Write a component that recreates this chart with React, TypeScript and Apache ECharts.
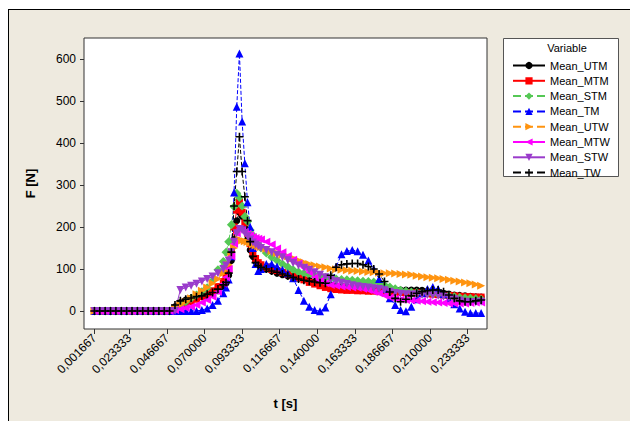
import React, { useEffect, useRef } from "react";
import * as echarts from "echarts";

// sample numbers (sampling rate 600 Hz): t = n / 600
const sampleIdx = [
  1, 3, 5, 7, 9, 11, 13, 15, 17, 19, 21, 23, 25, 27, 29,
  31, 33, 35, 37, 39, 41, 43, 45, 47, 49,
  50, 51, 52, 53, 54, 55, 56, 57, 58, 59, 60, 61, 62,
  63, 65, 67, 69, 71, 73, 75, 77, 79, 81, 83, 85, 87, 89, 91, 93, 95, 97, 99, 101,
  103, 105, 107, 109, 111, 113, 115, 117, 119, 121, 123, 125, 127, 129, 131, 133,
  135, 137, 139, 141, 143, 145,
];
const sampleRate = 600;
const xTickIdx = [1, 14, 28, 42, 56, 70, 84, 98, 112, 126, 140];
const yTicks = [0, 100, 200, 300, 400, 500, 600];

const UTM = [
  0, 0, 0, 0, 0, 0, 0, 0, 0, 0, 0, 0, 0, 0, 0,
  10, 20, 26, 30, 32, 34, 36, 40, 48, 58,
  66, 85, 120, 170, 215, 235, 225, 200, 170, 145, 130, 118, 110,
  106, 100, 95, 90, 86, 83, 80, 78, 75, 73, 70, 67, 64, 62, 60, 58, 57, 55, 54, 53,
  52, 51, 50, 50, 50, 50, 50, 50, 50, 50, 49, 47, 45, 44, 42, 40, 38, 37, 36, 35, 34, 33,
];
const MTM = [
  0, 0, 0, 0, 0, 0, 0, 0, 0, 0, 0, 0, 0, 0, 0,
  4, 10, 16, 22, 28, 34, 40, 48, 58, 70,
  80, 100, 140, 200, 240, 260, 235, 210, 185, 160, 140, 125, 115,
  110, 104, 99, 96, 92, 88, 83, 79, 74, 68, 64, 60, 56, 53, 51, 50, 49, 49, 48, 48,
  47, 47, 46, 46, 45, 45, 44, 44, 43, 43, 42, 41, 40, 39, 38, 37, 36, 35, 34, 34, 33, 33,
];
const STM = [
  0, 0, 0, 0, 0, 0, 0, 0, 0, 0, 0, 0, 0, 0, 0,
  6, 15, 22, 30, 38, 46, 55, 72, 98, 118,
  140, 165, 205, 248, 280, 270, 250, 225, 213, 193, 180, 168, 158,
  150, 138, 128, 120, 112, 105, 98, 93, 90, 87, 84, 82, 80, 78, 76, 75, 74, 73, 72, 71,
  70, 69, 68, 62, 57, 53, 49, 47, 45, 44, 43, 42, 41, 40, 38, 36, 34, 32, 31, 30, 29, 28,
];
const TM = [
  0, 0, 0, 0, 0, 0, 0, 0, 0, 0, 0, 0, 0, 0, 0,
  0, 0, 0, 0, 0, 2, 6, 14, 24, 42,
  56, 75, 130, 282, 486, 613, 451, 352, 259, 200, 150, 112, 95,
  100, 112, 112, 106, 98, 90, 78, 50, 24, 10, 2, -1, 8, 40, 105, 135, 143, 145, 142, 134,
  120, 100, 76, 52, 30, 14, 2, -1, 10, 28, 42, 52, 57, 52, 40, 28, 16, 6, -2, -5, -5, -5,
];
const UTW = [
  0, 0, 0, 0, 0, 0, 0, 0, 0, 0, 0, 0, 0, 0, 0,
  6, 14, 22, 30, 40, 48, 56, 66, 76, 90,
  98, 110, 130, 150, 165, 170, 168, 166, 164, 162, 158, 156, 154,
  152, 148, 143, 138, 134, 130, 126, 121, 116, 112, 109, 106, 104, 101, 99, 98, 97, 96, 95, 94,
  93, 92, 91, 90, 90, 89, 88, 87, 86, 84, 82, 80, 79, 78, 76, 74, 72, 70, 68, 66, 63, 60,
];
const MTW = [
  0, 0, 0, 0, 0, 0, 0, 0, 0, 0, 0, 0, 0, 0, 0,
  2, 4, 7, 10, 14, 20, 26, 34, 46, 65,
  80, 100, 130, 160, 185, 195, 192, 188, 184, 180, 176, 174, 172,
  170, 165, 158, 149, 140, 131, 122, 113, 103, 92, 80, 72, 66, 62, 60, 58, 57, 56, 55, 53,
  50, 46, 42, 37, 32, 29, 27, 26, 25, 24, 23, 22, 21, 20, 19, 18, 18, 18, 18, 19, 20, 20,
];
const STW = [
  0, 0, 0, 0, 0, 0, 0, 0, 0, 0, 0, 0, 0, 0, 0,
  0, 50, 56, 60, 65, 70, 76, 82, 90, 100,
  108, 120, 140, 165, 185, 195, 192, 185, 178, 170, 163, 158, 154,
  150, 145, 140, 134, 128, 121, 114, 108, 103, 98, 92, 86, 80, 75, 71, 67, 64, 61, 59, 57,
  56, 54, 52, 49, 46, 43, 41, 40, 39, 39, 38, 38, 37, 36, 34, 31, 28, 25, 22, 21, 21, 22,
];
const TW = [
  0, 0, 0, 0, 0, 0, 0, 0, 0, 0, 0, 0, 0, 0, 0,
  14, 24, 28, 31, 34, 36, 40, 44, 52, 62,
  68, 90, 140, 250, 332, 415, 332, 272, 215, 165, 130, 115, 108,
  104, 100, 95, 92, 88, 84, 80, 76, 73, 71, 69, 67, 66, 85, 104, 110, 112, 113, 113, 110,
  106, 100, 88, 70, 45, 30, 22, 28, 36, 42, 46, 48, 50, 50, 46, 38, 30, 24, 22, 22, 24, 26,
];

const seriesNames = ["Mean_UTM", "Mean_MTM", "Mean_STM", "Mean_TM", "Mean_UTW", "Mean_MTW", "Mean_STW", "Mean_TW"];
const seriesValues = [UTM, MTM, STM, TM, UTW, MTW, STW, TW];

const FONT = "Arial, 'Liberation Sans', sans-serif";
const PLUS = "path://M4,0H6V4H10V6H6V10H4V6H0V4H4Z";

const styles = [
  { color: "#000000", type: "solid", symbol: "circle", rotate: 0, size: 7 },
  { color: "#FF0000", type: "solid", symbol: "rect", rotate: 0, size: 7 },
  { color: "#55C855", type: "dashed", symbol: "diamond", rotate: 0, size: 9 },
  { color: "#0000FF", type: "dashed", symbol: "triangle", rotate: 0, size: 8 },
  { color: "#FF9410", type: "dashed", symbol: "triangle", rotate: -90, size: 8 },
  { color: "#FF00FF", type: "solid", symbol: "triangle", rotate: 90, size: 8 },
  { color: "#9A3BCB", type: "solid", symbol: "triangle", rotate: 180, size: 8 },
  { color: "#000000", type: "dashed", symbol: PLUS, rotate: 0, size: 8 },
];

export default function App() {
  const ref = useRef<HTMLDivElement>(null);
  useEffect(() => {
    document.body.style.margin = "0";
    const chart = echarts.init(ref.current!, null, { renderer: "svg" });
    const times = sampleIdx.map((n) => n / sampleRate);
    const series = seriesNames.map((name, i) => ({
      name,
      type: "line",
      data: times.map((t, k) => [t, seriesValues[i][k]]),
      symbol: styles[i].symbol,
      symbolSize: styles[i].size,
      symbolRotate: styles[i].rotate,
      showSymbol: true,
      showAllSymbol: true,
      lineStyle: { color: styles[i].color, width: 1, type: styles[i].type },
      itemStyle: { color: styles[i].color },
      emphasis: { disabled: true },
    }));
    chart.setOption({
      animation: false,
      backgroundColor: "#EEEADF",
      textStyle: { fontFamily: FONT },
      grid: {
        left: 84,
        right: 143,
        top: 38,
        bottom: 92,
        show: true,
        backgroundColor: "#FFFFFF",
        borderColor: "#333333",
        borderWidth: 1,
      },
      xAxis: {
        type: "value",
        min: -0.0048,
        max: 0.2453,
        name: "t [s]",
        nameLocation: "middle",
        nameGap: 68,
        nameTextStyle: { fontSize: 13, fontWeight: "bold", color: "#000", fontFamily: FONT },
        axisLine: { show: false, onZero: false },
        splitLine: { show: false },
        axisTick: {
          show: true,
          length: 5,
          lineStyle: { color: "#333" },
          customValues: xTickIdx.map((n) => n / sampleRate),
        },
        axisLabel: {
          rotate: 45,
          margin: 7,
          fontSize: 12,
          color: "#000",
          fontFamily: FONT,
          customValues: xTickIdx.map((n) => n / sampleRate),
          formatter: (v: number) => v.toFixed(6).replace(".", ","),
        },
      },
      yAxis: {
        type: "value",
        min: -43,
        max: 650,
        name: "F [N]",
        nameLocation: "middle",
        nameGap: 47,
        nameRotate: 90,
        nameTextStyle: { fontSize: 13, fontWeight: "bold", color: "#000", fontFamily: FONT },
        axisLine: { show: false, onZero: false },
        splitLine: { show: false },
        axisTick: { show: true, length: 4, lineStyle: { color: "#333" }, customValues: yTicks },
        axisLabel: { margin: 8, fontSize: 12, color: "#000", fontFamily: FONT, customValues: yTicks },
      },
      legend: {
        data: seriesNames,
        orient: "vertical",
        left: 507,
        top: 55,
        itemWidth: 32,
        itemHeight: 9,
        itemGap: 4.3,
        symbolRotate: "inherit",
        textStyle: { fontSize: 11, color: "#000", fontFamily: FONT, lineHeight: 10 },
        selectedMode: false,
      },
      graphic: [
        { type: "rect", shape: { x: 0, y: 0, width: 8, height: 421 }, style: { fill: "#FFFFFF" }, silent: true },
        { type: "rect", shape: { x: 0, y: 0, width: 630, height: 9 }, style: { fill: "#FFFFFF" }, silent: true },
        { type: "line", shape: { x1: 8.5, y1: 9, x2: 8.5, y2: 421 }, style: { stroke: "#000", lineWidth: 1 }, silent: true },
        { type: "line", shape: { x1: 8, y1: 9.5, x2: 630, y2: 9.5 }, style: { stroke: "#000", lineWidth: 1 }, silent: true },
        {
          type: "rect",
          shape: { x: 503.5, y: 38.5, width: 115, height: 138 },
          style: { fill: "#FFFFFF", stroke: "#555555", lineWidth: 1 },
          silent: true,
        },
        {
          type: "text",
          x: 567,
          y: 48,
          style: { text: "Variable", fontSize: 11, fontFamily: FONT, fill: "#000", align: "center", verticalAlign: "middle" },
          silent: true,
        },
      ],
      series,
    });
    return () => chart.dispose();
  }, []);
  return <div ref={ref} style={{ position: "absolute", left: 0, top: 0, width: 630, height: 421 }} />;
}
